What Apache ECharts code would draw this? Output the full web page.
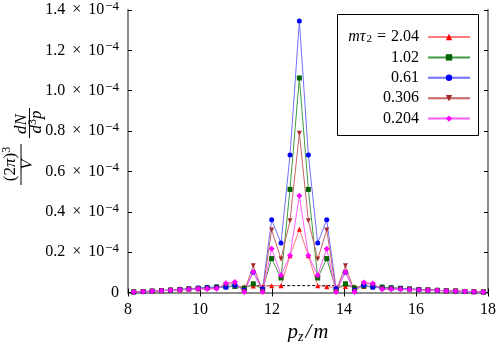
<!DOCTYPE html>
<html>
<head>
<meta charset="utf-8">
<script src="https://cdn.jsdelivr.net/npm/echarts@6/dist/echarts.min.js"></script>
<style>html,body{margin:0;padding:0;background:#fff}#c{width:500px;height:342px}</style>
</head>
<body>
<div id="c"></div>
<script>
// p_z/m values
const pz = [8.16, 8.42, 8.67, 8.93, 9.18, 9.44, 9.69, 9.95, 10.20, 10.46,
  10.72, 10.97, 11.23, 11.48, 11.74, 11.99, 12.25, 12.50, 12.76, 13.01,
  13.27, 13.52, 13.78, 14.04, 14.29, 14.55, 14.80, 15.06, 15.31, 15.57,
  15.82, 16.08, 16.33, 16.59, 16.84, 17.10, 17.36, 17.61, 17.87];
// (2pi)^3/V dN/d^3p in units of 1e-4
const tau204 = [0.003,0.005,0.007,0.009,0.012,0.014,0.017,0.019,0.022,0.025,
  0.030,0.032,0.028,0.032,0.030,0.034,0.034,0.182,0.313,0.182,0.034,0.028,0.025,0.030,0.028,0.030,0.028,
  0.024,0.022,0.020,0.017,0.015,0.013,0.011,0.009,0.007,0.005,0.004,0.003];
const tau102 = [0.003,0.005,0.007,0.010,0.012,0.015,0.018,0.021,0.024,0.028,
  0.028,0.030,0.022,0.043,0.015,0.168,0.072,0.511,1.063,0.511,0.072,0.168,0.015,0.043,0.022,0.032,0.029,
  0.027,0.024,0.021,0.018,0.015,0.013,0.011,0.009,0.007,0.005,0.004,0.003];
const tau061 = [0.003,0.005,0.007,0.010,0.013,0.016,0.019,0.022,0.025,0.026,
  0.026,0.036,0.012,0.100,0.019,0.360,0.245,0.681,1.345,0.681,0.245,0.360,0.019,0.100,0.012,0.036,0.026,
  0.022,0.021,0.020,0.017,0.015,0.013,0.011,0.009,0.007,0.005,0.004,0.003];
const tau0306 = [0.003,0.004,0.006,0.009,0.011,0.013,0.015,0.017,0.019,0.021,
  0.040,0.045,0.005,0.133,0.005,0.310,0.166,0.356,0.789,0.356,0.166,0.310,0.005,0.133,0.005,0.045,0.040,
  0.018,0.017,0.016,0.015,0.013,0.012,0.010,0.008,0.007,0.005,0.004,0.002];
const tau0204 = [0.003,0.004,0.006,0.009,0.011,0.013,0.015,0.017,0.017,0.018,
  0.046,0.052,0.002,0.102,0.003,0.217,0.086,0.183,0.480,0.183,0.086,0.217,0.003,0.102,0.002,0.050,0.044,
  0.016,0.016,0.015,0.014,0.013,0.011,0.010,0.008,0.006,0.005,0.004,0.002];
const dashX = [11.45, 14.3];
const dashY = [0.034, 0.034];
const seriesNames = ['mτ₂ = 2.04', '1.02', '0.61', '0.306', '0.204'];
const xTicks = [8, 10, 12, 14, 16, 18];
const yTicks = [0, 0.2, 0.4, 0.6, 0.8, 1.0, 1.2, 1.4];

const F = '"Liberation Serif", "DejaVu Serif", serif';
const chart = echarts.init(document.getElementById('c'), null, {renderer: 'canvas'});

const styles = [
  {data: tau204, line: '#ff7a7a', mark: '#ff0000', symbol: 'triangle', size: 5},
  {data: tau102, line: '#3f9a3f', mark: '#006400', symbol: 'rect', size: 5},
  {data: tau061, line: '#6f6fff', mark: '#0000ff', symbol: 'circle', size: 5},
  {data: tau0306, line: '#c86464', mark: '#a52a2a', symbol: 'path://M0,0 L10,0 L5,10 Z', size: 5},
  {data: tau0204, line: '#ff5cff', mark: '#ff00ff', symbol: 'diamond', size: 6}
];

const series = styles.map((s, k) => ({
  name: seriesNames[k],
  type: 'line',
  data: pz.map((x, i) => [x, s.data[i]]),
  symbol: s.symbol,
  symbolSize: s.size,
  showAllSymbol: true,
  itemStyle: {color: s.mark},
  lineStyle: {color: s.line, width: 1},
  animation: false
}));
series.unshift({
  name: 'dashed',
  type: 'line',
  data: dashX.map((x, i) => [x, dashY[i]]),
  symbol: 'none',
  lineStyle: {color: '#000', width: 1, type: [3, 2]},
  animation: false,
  z: 1
});

const axisLine = {show: true, lineStyle: {color: '#8a8a8a', width: 2}};
const axisTick = {show: true, inside: true, length: 4, lineStyle: {color: '#000', width: 1}};
const numRich = {
  n: {fontFamily: F, fontSize: 16, lineHeight: 20, verticalAlign: 'middle', color: '#000'},
  x: {fontFamily: F, fontSize: 16, lineHeight: 20, verticalAlign: 'middle', color: '#000', padding: [0, 7, 0, 7]},
  s: {fontFamily: F, fontSize: 13, lineHeight: 12, verticalAlign: 'top', color: '#000', padding: [0, 0, 0, 1]}
};

const option = {
  backgroundColor: '#fff',
  animation: false,
  grid: {left: 128, right: 12, top: 10, bottom: 49.5, containLabel: false, outerBoundsMode: 'none'},
  xAxis: [{
    type: 'value', min: 8, max: 18, interval: 2, position: 'bottom',
    axisLine, axisTick, splitLine: {show: false},
    axisLabel: {margin: 9, fontFamily: F, fontSize: 16, color: '#000',
      formatter: v => xTicks.includes(v) ? String(v) : ''},
    name: '{i|p}{b|z}{d|/}{i|m}', nameLocation: 'middle', nameGap: 24,
    nameTextStyle: {rich: {
      i: {fontFamily: F, fontStyle: 'italic', fontSize: 21, lineHeight: 22, verticalAlign: 'middle', color: '#000'},
      d: {fontFamily: F, fontStyle: 'italic', fontSize: 21, lineHeight: 22, verticalAlign: 'middle', color: '#000', padding: [0, 2, 0, 2]},
      b: {fontFamily: F, fontStyle: 'italic', fontSize: 14, lineHeight: 14, verticalAlign: 'bottom', color: '#000'}
    }}
  }, {
    type: 'value', min: 8, max: 18, interval: 2, position: 'top',
    axisLine, axisTick, axisLabel: {show: false}, splitLine: {show: false}
  }],
  yAxis: [{
    type: 'value', min: 0, max: 1.4, interval: 0.2,
    axisLine, axisTick, splitLine: {show: false},
    axisLabel: {margin: 9, rich: numRich,
      formatter: v => {
        const t = yTicks.find(y => Math.abs(y - v) < 1e-9);
        if (t === undefined) return '';
        if (t === 0) return '{n|0}';
        return '{n|' + t.toFixed(1) + '}{x|×}{n|10}{s|−4}';
      }}
  }, {
    type: 'value', min: 0, max: 1.4, interval: 0.2, position: 'right',
    axisLine, axisTick, axisLabel: {show: false}, splitLine: {show: false}
  }],
  legend: {
    data: seriesNames,
    orient: 'vertical', left: 337, top: 21,
    align: 'right',
    itemWidth: 42, itemHeight: 8, itemGap: 4.4,
    padding: [8, 8, 8, 5],
    formatter: name => {
      if (name === seriesNames[0]) return '{i|mτ}{b|2}{e| = }{n|2.04}';
      return '{r|' + name + '}';
    },
    textStyle: {
      rich: {
        i: {fontFamily: F, fontStyle: 'italic', fontSize: 16, lineHeight: 16, verticalAlign: 'middle', color: '#000'},
        b: {fontFamily: F, fontSize: 11, lineHeight: 11, verticalAlign: 'bottom', color: '#000', padding: [0, 0, 0, 1]},
        e: {fontFamily: F, fontSize: 16, lineHeight: 16, verticalAlign: 'middle', color: '#000', padding: [0, 1, 0, 1]},
        n: {fontFamily: F, fontSize: 16, lineHeight: 16, verticalAlign: 'middle', color: '#000', padding: [0, 4, 0, 0]},
        r: {fontFamily: F, fontSize: 16, lineHeight: 16, verticalAlign: 'middle', color: '#000', width: 77, align: 'right', padding: [0, 4, 0, 0]}
      }
    }
  },
  graphic: [
    {type: 'rect', z: 3, shape: {x: 337.5, y: 14.5, width: 141, height: 121},
      style: {fill: '#fff', stroke: '#000', lineWidth: 1}},
    {type: 'text', x: 11, y: 164, rotation: Math.PI / 2,
      style: {text: '{u|(2}{i|π}{u|)}{s|3}', align: 'center', verticalAlign: 'middle',
        rich: {
          u: {fontFamily: F, fontSize: 17, lineHeight: 20, verticalAlign: 'middle', fill: '#000'},
          i: {fontFamily: F, fontStyle: 'italic', fontSize: 17, lineHeight: 20, verticalAlign: 'middle', fill: '#000'},
          s: {fontFamily: F, fontSize: 12, lineHeight: 12, verticalAlign: 'top', fill: '#000'}
        }}},
    {type: 'line', shape: {x1: 21, y1: 144, x2: 21, y2: 185}, style: {stroke: '#000', lineWidth: 1}},
    {type: 'text', x: 28, y: 164.5, rotation: Math.PI / 2,
      style: {text: 'V', fontFamily: F, fontStyle: 'italic', fontSize: 17, align: 'center', verticalAlign: 'middle', fill: '#000'}},
    {type: 'text', x: 22, y: 124, rotation: Math.PI / 2,
      style: {text: 'dN', fontFamily: F, fontStyle: 'italic', fontSize: 17, align: 'center', verticalAlign: 'middle', fill: '#000'}},
    {type: 'line', shape: {x1: 29.5, y1: 108, x2: 29.5, y2: 138}, style: {stroke: '#000', lineWidth: 1}},
    {type: 'text', x: 37, y: 122, rotation: Math.PI / 2,
      style: {text: '{i|d}{s|3}{i|p}', align: 'center', verticalAlign: 'middle',
        rich: {
          i: {fontFamily: F, fontStyle: 'italic', fontSize: 17, lineHeight: 20, verticalAlign: 'middle', fill: '#000'},
          s: {fontFamily: F, fontSize: 12, lineHeight: 12, verticalAlign: 'top', fill: '#000'}
        }}}
  ],
  series
};
chart.setOption(option);
</script>
</body>
</html>
